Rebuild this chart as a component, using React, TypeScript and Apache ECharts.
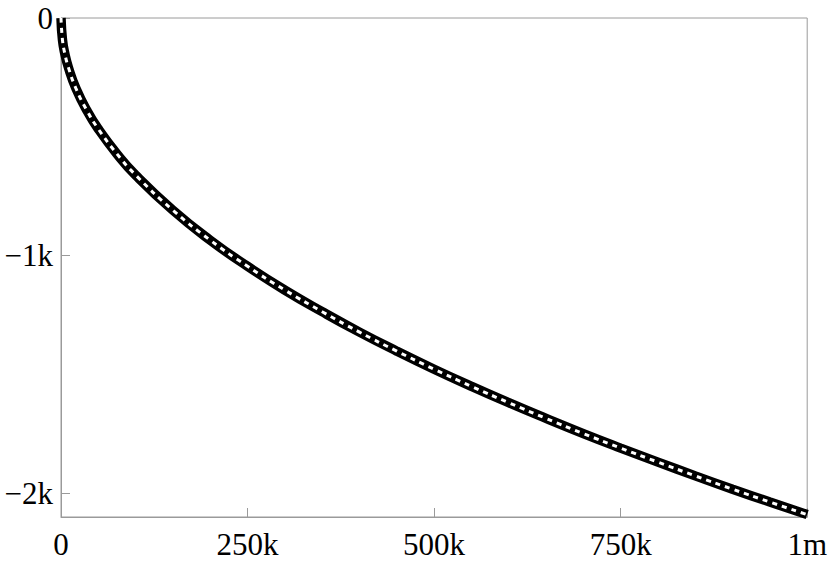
import React, { useEffect, useRef } from "react";
import * as echarts from "echarts";

const xValues = [
  0, 2000, 5000, 10000, 20000, 35000, 50000, 75000, 100000, 150000, 200000,
  250000, 300000, 350000, 400000, 450000, 500000, 550000, 600000, 650000,
  700000, 750000, 800000, 850000, 900000, 950000, 1000000,
];
const yValues = [
  0, -93, -148, -209, -296, -391, -467, -572, -661, -809, -935, -1045, -1145,
  -1236, -1322, -1402, -1478, -1550, -1619, -1685, -1749, -1810, -1869, -1927,
  -1983, -2037, -2090,
];
const xTicks = [0, 250000, 500000, 750000, 1000000];
const xTickLabels = ["0", "250k", "500k", "750k", "1m"];
const yTicks = [0, -1000, -2000];
const yTickLabels = ["0", "\u22121k", "\u22122k"];

export default function App() {
  const ref = useRef<HTMLDivElement>(null);
  useEffect(() => {
    document.body.style.margin = "0";
    const chart = echarts.init(ref.current!, null, { renderer: "svg" });
    const data = xValues.map((x, i) => [x, yValues[i]]);
    const axisColor = "#9a9a9a";
    const font = "'Liberation Serif', 'DejaVu Serif', serif";
    chart.setOption({
      animation: false,
      backgroundColor: "#ffffff",
      grid: {
        left: 61,
        right: 21,
        top: 18,
        bottom: 48,
        show: true,
        borderColor: axisColor,
        borderWidth: 1,
      },
      xAxis: {
        type: "value",
        min: 0,
        max: 1000000,
        interval: 250000,
        splitLine: { show: false },
        axisLine: { show: true, onZero: false, lineStyle: { color: axisColor } },
        axisTick: {
          show: true,
          inside: true,
          length: 9,
          customValues: xTicks,
          lineStyle: { color: axisColor },
        },
        axisLabel: {
          color: "#000",
          fontFamily: font,
          fontSize: 31,
          margin: 12,
          customValues: xTicks,
          formatter: (v: number) => xTickLabels[xTicks.indexOf(v)] ?? "",
        },
      },
      yAxis: {
        type: "value",
        min: -2100,
        max: 0,
        splitLine: { show: false },
        axisLine: { show: true, onZero: false, lineStyle: { color: axisColor } },
        axisTick: {
          show: true,
          inside: true,
          length: 9,
          customValues: yTicks,
          lineStyle: { color: axisColor },
        },
        axisLabel: {
          color: "#000",
          fontFamily: font,
          fontSize: 31,
          margin: 8,
          customValues: yTicks,
          formatter: (v: number) => yTickLabels[yTicks.indexOf(v)] ?? "",
        },
      },
      series: [
        {
          type: "line",
          data,
          smooth: true,
          showSymbol: false,
          lineStyle: { color: "#000", width: 9.5 },
        },
        {
          type: "line",
          data,
          smooth: true,
          showSymbol: false,
          lineStyle: { color: "#fff", width: 3, type: [5, 5] },
        },
      ],
    });
    return () => chart.dispose();
  }, []);
  return <div ref={ref} style={{ width: 830, height: 565 }} />;
}
